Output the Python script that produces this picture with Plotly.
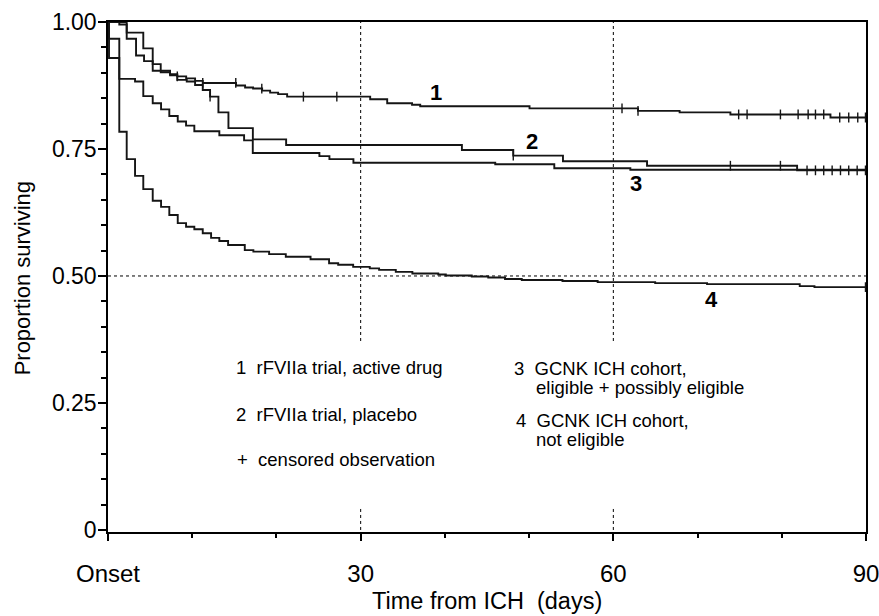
import numpy as np
import plotly.graph_objects as go

# ---------------- data ----------------
# Curve 1: rFVIIa trial, active drug  (time of step in days, survival after step)
t1 = [0, 2.22, 3.33, 4.28, 5.31, 7.37, 8.23, 9.28, 10.34, 11.25, 15.2, 16.28, 17.23,
      18.3, 19.25, 20.2, 21.27, 31.13, 33.15, 36.1, 37.07, 50.05, 62.93, 67.87, 73.9, 85.78]
s1 = [1.0, 0.967, 0.934, 0.923, 0.904, 0.897, 0.893, 0.889, 0.884, 0.880, 0.875, 0.871, 0.869,
      0.865, 0.861, 0.858, 0.853, 0.848, 0.840, 0.837, 0.834, 0.830, 0.825, 0.822, 0.818, 0.812]
c1 = [8.23, 11.25, 15.17, 18.26, 23.2, 27.17, 61.03, 62.93, 74.88, 75.88, 79.84,
      81.94, 83.13, 84.0, 84.98, 86.88, 87.95, 89.02, 89.94]

# Curve 2: rFVIIa trial, placebo
t2 = [0, 1.34, 2.22, 4.19, 5.31, 6.26, 7.37, 8.23, 9.35, 10.34, 11.25, 12.12, 13.11, 14.3,
      17.2, 21.15, 42.02, 48.12, 54.02, 64.0, 81.82]
s2 = [1.0, 0.995, 0.979, 0.948, 0.917, 0.901, 0.895, 0.886, 0.883, 0.876, 0.866, 0.853, 0.822,
      0.791, 0.769, 0.758, 0.748, 0.737, 0.726, 0.717, 0.708]
c2 = [12.12, 48.12, 73.9, 79.84, 83.0, 84.0, 84.98, 85.98, 86.97, 87.95, 88.95, 89.94]

# Curve 3: GCNK ICH cohort, eligible + possibly eligible
t3 = [0, 0.12, 1.34, 3.21, 4.19, 5.31, 6.30, 7.28, 8.28, 9.27, 10.25, 13.22, 16.16, 17.19,
      25.1, 26.29, 29.14, 45.98, 52.99, 62.02]
s3 = [1.0, 0.967, 0.888, 0.883, 0.854, 0.840, 0.828, 0.815, 0.804, 0.796, 0.785, 0.777, 0.767,
      0.742, 0.736, 0.730, 0.723, 0.720, 0.712, 0.709]
c3 = []

# Curve 4: GCNK ICH cohort, not eligible
t4 = [0, 0.12, 1.34, 2.22, 3.21, 4.19, 5.31, 6.30, 7.28, 8.28, 9.27, 10.25, 11.25, 12.24,
      13.22, 14.26, 16.24, 17.26, 19.13, 21.11, 24.05, 26.25, 27.33, 29.11, 31.08, 32.19,
      34.17, 36.14, 39.21, 40.11, 43.19, 45.15, 47.14, 49.13, 53.96, 58.14, 64.97, 71.13,
      82.13, 83.88]
s4 = [1.0, 0.929, 0.784, 0.730, 0.697, 0.671, 0.648, 0.636, 0.620, 0.604, 0.597, 0.592,
      0.584, 0.575, 0.569, 0.561, 0.551, 0.548, 0.543, 0.538, 0.533, 0.525, 0.522, 0.518,
      0.515, 0.512, 0.508, 0.505, 0.503, 0.501, 0.499, 0.497, 0.494, 0.492, 0.490, 0.488,
      0.486, 0.484, 0.480, 0.478]
c4 = [89.94]

follow_up_end = 90
x_tick_vals = [0, 30, 60, 90]
x_tick_text = ["Onset", "30", "60", "90"]
y_tick_vals = [0, 0.25, 0.5, 0.75, 1.0]
y_tick_text = ["0", "0.25", "0.50", "0.75", "1.00"]
ref_days = [30, 60]
ref_surv = 0.5

curve_labels = ["1", "2", "3", "4"]
curve_label_pos = [(38.9, 0.862), (50.4, 0.764), (62.7, 0.683), (71.7, 0.454)]

NB = "\u00a0"
legend_items = [
    ("1" + NB * 2 + "rFVIIa trial, active drug", 15.0, 0.319),
    ("2" + NB * 2 + "rFVIIa trial, placebo", 15.0, 0.228),
    ("+" + NB * 2 + "censored observation", 15.1, 0.138),
    ("3" + NB * 2 + "GCNK ICH cohort,", 48.0, 0.318),
    ("eligible + possibly eligible", 50.6, 0.281),
    ("4" + NB * 2 + "GCNK ICH cohort,", 48.2, 0.215),
    ("not eligible", 50.6, 0.178),
]

FONT = "Liberation Sans, Arial, Helvetica, sans-serif"
LINE_COLOR = "#151515"

fig = go.Figure()

curves = [(t1, s1, c1), (t2, s2, c2), (t3, s3, c3), (t4, s4, c4)]
for t, s, c in curves:
    xs = list(t) + [follow_up_end]
    ys = list(s) + [s[-1]]
    fig.add_trace(go.Scatter(x=xs, y=ys, mode="lines",
                             line=dict(shape="hv", color=LINE_COLOR, width=1.9),
                             hoverinfo="skip"))
    if c:
        idx = np.searchsorted(np.array(t), np.array(c), side="right") - 1
        cy = [s[i] for i in idx]
        fig.add_trace(go.Scatter(x=c, y=cy, mode="markers",
                                 marker=dict(symbol="line-ns-open", size=7, color=LINE_COLOR,
                                             line=dict(width=1.4, color=LINE_COLOR)),
                                 hoverinfo="skip"))

# dotted reference lines
shapes = [dict(type="line", xref="x", yref="y", x0=0, x1=follow_up_end, y0=ref_surv, y1=ref_surv,
               line=dict(color="black", width=1, dash="dot"), layer="below")]
for d in ref_days:
    shapes.append(dict(type="line", xref="x", yref="y", x0=d, x1=d, y0=0.372, y1=1.0,
                       line=dict(color="black", width=1, dash="dot"), layer="below"))
    shapes.append(dict(type="line", xref="x", yref="y", x0=d, x1=d, y0=0.0, y1=0.045,
                       line=dict(color="black", width=1, dash="dot"), layer="below"))

annotations = []
for lab, (lx, ly) in zip(curve_labels, curve_label_pos):
    annotations.append(dict(x=lx, y=ly, xref="x", yref="y", text="<b>" + lab + "</b>",
                            showarrow=False, font=dict(family=FONT, size=22, color="black"),
                            xanchor="center", yanchor="middle"))
for txt, lx, ly in legend_items:
    annotations.append(dict(x=lx, y=ly, xref="x", yref="y", text=txt, showarrow=False,
                            font=dict(family=FONT, size=18.5, color="black"),
                            xanchor="left", yanchor="middle"))
annotations.append(dict(x=0.5, y=-0.135, xref="paper", yref="paper",
                        text="Time from ICH" + NB * 2 + "(days)", showarrow=False,
                        font=dict(family=FONT, size=23.5, color="black"),
                        xanchor="center", yanchor="middle"))
annotations.append(dict(x=-0.113, y=0.498, xref="paper", yref="paper",
                        text="Proportion surviving", showarrow=False, textangle=-90,
                        font=dict(family=FONT, size=22, color="black"),
                        xanchor="center", yanchor="middle"))

fig.update_layout(
    width=879, height=616,
    margin=dict(l=108, r=13, t=22, b=84, autoexpand=False),
    plot_bgcolor="white", paper_bgcolor="white",
    showlegend=False,
    font=dict(family=FONT, color="black"),
    shapes=shapes,
    annotations=annotations,
    xaxis=dict(range=[0, follow_up_end], tickvals=x_tick_vals, ticktext=x_tick_text,
               automargin=False, ticklabeloverflow="allow",
               ticks="outside", ticklen=7, tickwidth=1.5, tickcolor="black",
               showline=True, linewidth=1.5, linecolor="black", mirror=True,
               showgrid=False, zeroline=False,
               tickfont=dict(family=FONT, size=24, color="black"),
               ticklabelstandoff=12,
               minor=dict(tickvals=[10, 20, 40, 50, 70, 80], ticks="outside", ticklen=4,
                          tickwidth=1.5, tickcolor="black", showgrid=False)),
    yaxis=dict(range=[-0.004, 1.0], tickvals=y_tick_vals, ticktext=y_tick_text,
               automargin=False, ticklabeloverflow="allow",
               ticks="outside", ticklen=8, tickwidth=1.5, tickcolor="black",
               showline=True, linewidth=1.5, linecolor="black", mirror=True,
               showgrid=False, zeroline=False,
               tickfont=dict(family=FONT, size=23, color="black"),
               ticklabelstandoff=-3,
               minor=dict(tick0=0, dtick=0.05, ticks="outside", ticklen=5,
                          tickwidth=1.5, tickcolor="black", showgrid=False)),
)

fig.write_html("out.html",
               config={"displayModeBar": False},
               post_script="document.body.style.margin='0px';document.body.style.overflow='hidden';")
